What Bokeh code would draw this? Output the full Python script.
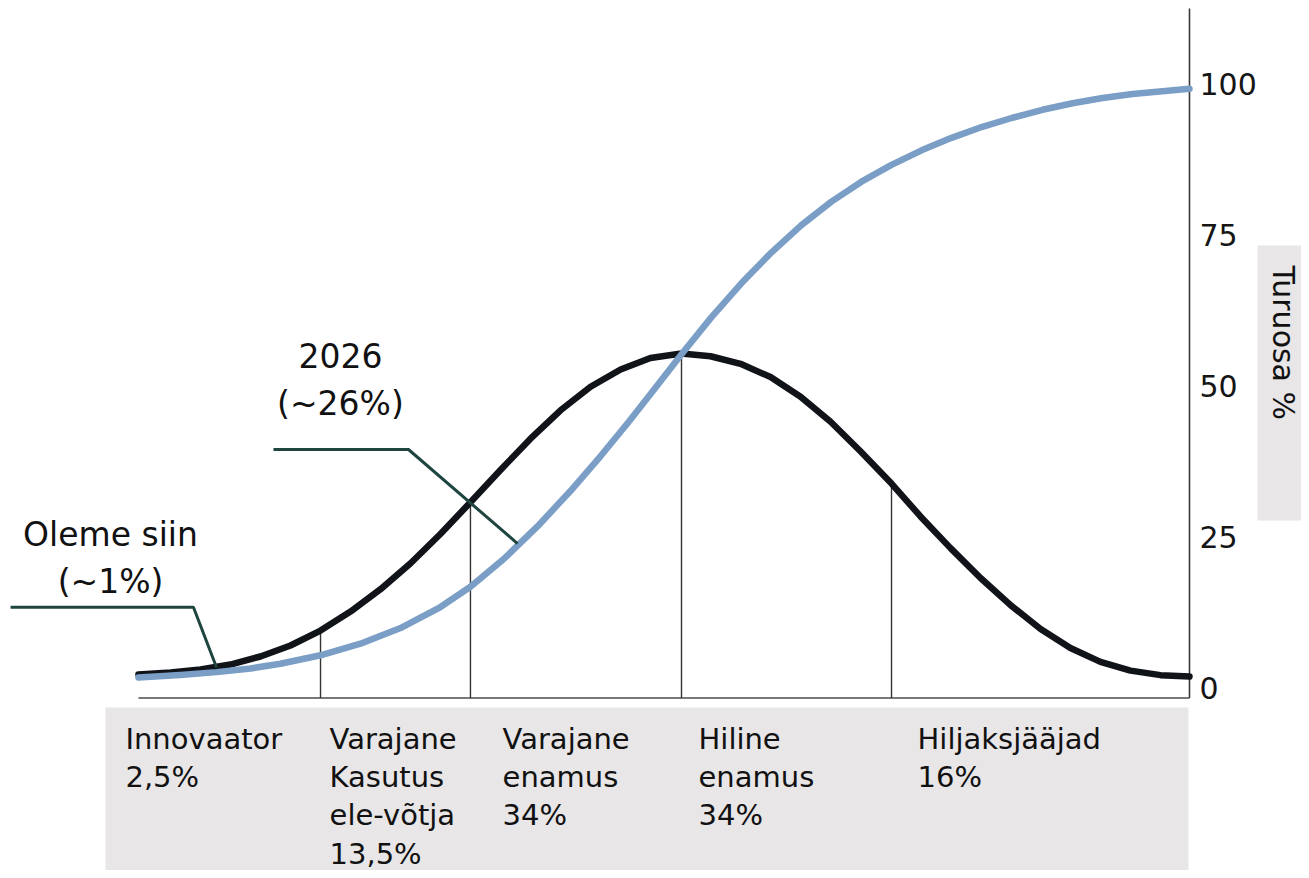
import math
from bokeh.plotting import figure
from bokeh.models import Range1d, LinearAxis, FixedTicker
from bokeh.core.properties import value
from bokeh.embed import file_html
from bokeh.resources import INLINE

FONT = "DejaVu Sans"

# ---- data (x in standard-deviation units from the mean, y in percent) ----
bell_x = [-2.586, -2.433, -2.290, -2.148, -2.005, -1.862, -1.719, -1.576, -1.433,
          -1.290, -1.148, -1.005, -0.862, -0.719, -0.576, -0.433, -0.290, -0.148,
          0.0, 0.138, 0.281, 0.424, 0.567, 0.710, 0.852, 1.0, 1.138, 1.281, 1.424,
          1.567, 1.710, 1.852, 1.995, 2.138, 2.281, 2.419]
bell_y = [2.15, 2.49, 2.98, 3.81, 5.14, 6.96, 9.44, 12.59, 16.29,
          20.59, 25.44, 30.69, 36.04, 41.24, 45.94, 49.84, 52.69, 54.59,
          55.34, 54.89, 53.64, 51.44, 48.19, 44.04, 39.14, 33.80, 28.35, 23.10, 18.15,
          13.65, 9.70, 6.55, 4.25, 2.80, 2.05, 1.82]

share_x = [-2.586, -2.386, -2.214, -2.052, -1.910, -1.719, -1.529, -1.338, -1.148,
           -1.005, -0.848, -0.686, -0.529, -0.386, -0.252, -0.124, 0.0, 0.143,
           0.286, 0.429, 0.571, 0.714, 0.857, 1.0, 1.143, 1.286, 1.433, 1.576,
           1.719, 1.862, 2.005, 2.148, 2.290, 2.419]
share_y = [1.66, 2.08, 2.55, 3.16, 3.94, 5.34, 7.26, 9.86, 13.34,
           16.70, 21.25, 26.69, 32.56, 38.32, 44.00, 49.67, 55.23, 61.38,
           67.02, 72.12, 76.62, 80.52, 83.82, 86.61, 89.01, 91.08, 92.91, 94.41,
           95.73, 96.81, 97.68, 98.34, 98.82, 99.20]

y_ticks = [0, 25, 50, 75, 100]

segment_names = ["Innovaator", "Varajane\nKasutus\nele-võtja", "Varajane\nenamus",
                 "Hiline\nenamus", "Hiljaksjääjad"]
segment_shares = ["2,5%", "13,5%", "34%", "34%", "16%"]

boundary_x = [-1.719, -1.005, 0.0, 1.0]
boundary_top = [9.44, 30.69, 55.34, 33.80]

note_texts = ["Oleme siin\n(~1%)", "2026\n(~26%)"]
note_1_x = [-3.195, -2.324, -2.214]
note_1_y = [13.31, 13.31, 3.31]
note_2_x = [-1.943, -1.300, -0.781]
note_2_y = [39.44, 39.44, 23.86]

axis_title = "Turuosa %"

# ---- layout constants ----
X0, X1 = -3.2429, 2.9524
Y0, Y1 = -30.32, 113.84
AXIS_X = 2.4190
AXIS_TOP = 112.51
BASE_Y = -1.74
BAND_LEFT, BAND_RIGHT, BAND_TOP = -2.743, 2.414, -3.31
GREY = "#e8e6e7"

p = figure(width=1301, height=870, x_range=Range1d(X0, X1), y_range=Range1d(Y0, Y1),
           output_backend="svg", toolbar_location=None, title=None,
           x_axis_location=None, y_axis_location=None,
           min_border_left=0, min_border_top=0, min_border_bottom=0, min_border_right=0)
p.outline_line_color = None
p.background_fill_color = "white"
p.border_fill_color = "white"
p.xgrid.visible = False
p.ygrid.visible = False

ax = LinearAxis(ticker=FixedTicker(ticks=y_ticks), fixed_location=AXIS_X)
ax.axis_line_color = None
ax.major_tick_line_color = None
ax.minor_tick_line_color = None
ax.major_tick_out = 0
ax.major_tick_in = 0
ax.major_label_standoff = 10
ax.major_label_text_font = FONT
ax.major_label_text_font_size = "30px"
ax.major_label_text_color = "#151515"
p.add_layout(ax, "right")

# grey band under the chart
p.quad(left=[BAND_LEFT], right=[BAND_RIGHT], bottom=[Y0 - 5], top=[BAND_TOP],
       fill_color=GREY, line_color=None)

# baseline and vertical axis line
p.segment(x0=[bell_x[0]], y0=[BASE_Y], x1=[AXIS_X], y1=[BASE_Y], line_color="#4d4d4d", line_width=1.6)
p.segment(x0=[AXIS_X], y0=[BASE_Y], x1=[AXIS_X], y1=[AXIS_TOP], line_color="#3a3a3a", line_width=1.6)

# segment dividers
p.segment(x0=boundary_x, y0=[BASE_Y] * len(boundary_x), x1=boundary_x, y1=boundary_top,
          line_color="#333333", line_width=1.4)

# curves
p.line(bell_x, bell_y, line_color="#101318", line_width=6.5, line_join="round", line_cap="round")
p.line(share_x, share_y, line_color="#7a9ec6", line_width=6.5, line_join="round", line_cap="round")

# leader lines
p.line(note_1_x, note_1_y, line_color="#1f4540", line_width=3)
p.line(note_2_x, note_2_y, line_color="#1f4540", line_width=3)

# annotation texts
p.text(x=[-2.719, -1.624], y=[28.55, 58.05], text=note_texts,
       text_font=value(FONT), text_font_size="33px", text_color="#111111",
       text_align="center", text_baseline="top", text_line_height=1.2)

# category labels
cat_x = [-2.648, -1.676, -0.852, 0.081, 1.124]
cat_text = [n + "\n" + s for n, s in zip(segment_names, segment_shares)]
p.text(x=cat_x, y=[-5.69] * len(cat_x), text=cat_text,
       text_font=value(FONT), text_font_size="29px", text_color="#111111",
       text_align="left", text_baseline="top", text_line_height=1.126)

# axis title in grey box
p.quad(left=[2.7429], right=[X1 + 1], bottom=[27.67], top=[73.24],
       fill_color=GREY, line_color=None)
p.text(x=[2.8667], y=[69.93], text=[axis_title], angle=-math.pi / 2,
       text_font=value(FONT), text_font_size="30px", text_color="#111111",
       text_align="left", text_baseline="alphabetic")

open("out.html", "w").write(file_html(p, INLINE))
